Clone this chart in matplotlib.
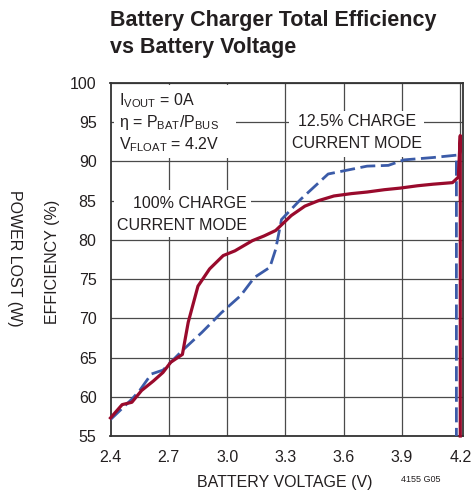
import matplotlib
matplotlib.use("Agg")
import matplotlib.pyplot as plt
from matplotlib.patches import Rectangle

# ---------------- data ----------------
x_ticks = [2.4, 2.7, 3.0, 3.3, 3.6, 3.9, 4.2]
x_tick_labels = ["2.4", "2.7", "3.0", "3.3", "3.6", "3.9", "4.2"]
y_ticks = [55, 60, 65, 70, 75, 80, 85, 90, 95, 100]
y_tick_labels = ["55", "60", "65", "70", "75", "80", "85", "90", "95", "100"]

full_v = [2.40, 2.46, 2.51, 2.56, 2.62, 2.67, 2.71, 2.77, 2.80, 2.85, 2.91, 2.98,
          3.04, 3.13, 3.19, 3.25, 3.33, 3.40, 3.47, 3.55, 3.64, 3.72, 3.81, 3.89,
          3.98, 4.06, 4.16, 4.19, 4.20, 4.20]
full_eff = [57.3, 59.0, 59.3, 60.8, 62.0, 63.1, 64.4, 65.4, 69.5, 74.1, 76.3, 78.0,
            78.6, 79.9, 80.5, 81.2, 83.1, 84.3, 85.0, 85.6, 85.9, 86.1, 86.4, 86.6,
            86.9, 87.1, 87.3, 88.0, 93.3, 55.0]

low_v = [2.40, 2.51, 2.55, 2.61, 2.67, 2.71, 2.77, 2.87, 2.97, 3.07, 3.14, 3.22,
         3.25, 3.28, 3.38, 3.52, 3.64, 3.72, 3.83, 3.91, 4.06, 4.18, 4.18]
low_eff = [57.1, 59.7, 60.8, 62.9, 63.4, 64.4, 65.9, 68.2, 70.7, 72.9, 75.2, 76.5,
           78.8, 82.6, 85.2, 88.4, 89.0, 89.4, 89.5, 90.2, 90.5, 90.8, 55.0]

# ---------------- style ----------------
FONT = ["Liberation Sans", "DejaVu Sans"]
plt.rcParams["font.family"] = FONT
plt.rcParams["mathtext.fontset"] = "custom"
plt.rcParams["mathtext.rm"] = "Liberation Sans"
plt.rcParams["mathtext.it"] = "Liberation Sans:italic"
plt.rcParams["mathtext.bf"] = "Liberation Sans:bold"

W, H = 474, 491
fig = plt.figure(figsize=(W / 100, H / 100), dpi=100)

L, R, T, B = 110.5, 463, 83, 436
ax = fig.add_axes([L / W, 1 - B / H, (R - L) / W, (B - T) / H])
ax.set_xlim(2.4, 4.214)
ax.set_ylim(55, 100)
ax.set_axisbelow(True)

TXT = "#231f20"
GRID = "#4a4a4a"
FS = 11.5

ax.set_xticks(x_ticks)
ax.set_xticklabels(x_tick_labels)
ax.set_yticks(y_ticks)
ax.set_yticklabels(y_tick_labels)
ax.tick_params(length=0, labelsize=FS, colors=TXT)
ax.tick_params(axis="x", pad=10)
ax.tick_params(axis="y", pad=10)
ax.grid(True, color=GRID, linewidth=0.9)
for s in ax.spines.values():
    s.set_color("#333333")
    s.set_linewidth(1.3)


def px2ax(px, py):
    return (px - L) / (R - L), (B - py) / (B - T)


def white_box(x0, y0, x1, y1):
    ax0, ay1 = px2ax(x0, y0)
    ax1, ay0 = px2ax(x1, y1)
    ax.add_patch(Rectangle((ax0, ay0), ax1 - ax0, ay1 - ay0, transform=ax.transAxes,
                           facecolor="white", edgecolor="none", zorder=1))


white_box(114, 85, 236, 158)
white_box(289, 111, 424, 157)
white_box(114, 190, 251, 237)

ax.plot(low_v, low_eff, color="#3b5ba8", linewidth=2.0,
        linestyle=(0, (5.4, 2.0)), zorder=3, clip_on=False)
ax.plot(full_v, full_eff, color="#990a2c", linewidth=2.3, zorder=4,
        solid_joinstyle="round", clip_on=False)

# annotations (pixel positions -> axes fraction)
def atext(px, py, s, ha="left", size=FS):
    x, y = px2ax(px, py)
    ax.text(x, y, s, transform=ax.transAxes, ha=ha, va="center", fontsize=size,
            color=TXT, zorder=5)

atext(119, 101, r"I$_{\mathrm{VOUT}}$ = 0A")
atext(119, 123, r"η = P$_{\mathrm{BAT}}$/P$_{\mathrm{BUS}}$")
atext(119, 145, r"V$_{\mathrm{FLOAT}}$ = 4.2V")
atext(357, 122, "12.5% CHARGE", ha="center")
atext(357, 144, "CURRENT MODE", ha="center")
atext(247, 204, "100% CHARGE", ha="right")
atext(247, 225, "CURRENT MODE", ha="right")

# titles and axis labels
fig.text(110 / W, 1 - 26 / H, "Battery Charger Total Efficiency", fontsize=15.5,
         fontweight="bold", color=TXT, ha="left", va="baseline")
fig.text(110 / W, 1 - 53 / H, "vs Battery Voltage", fontsize=15.5,
         fontweight="bold", color=TXT, ha="left", va="baseline")
fig.text(285 / W, 1 - 482 / H, "BATTERY VOLTAGE (V)", fontsize=FS, color=TXT,
         ha="center", va="center")
fig.text(52 / W, 1 - 262 / H, "EFFICIENCY (%)", fontsize=FS, color=TXT,
         ha="center", va="center", rotation=90)
fig.text(14 / W, 1 - 258 / H, "POWER LOST (W)", fontsize=FS, color=TXT,
         ha="center", va="center", rotation=-90)
fig.text(421 / W, 1 - 479 / H, "4155 G05", fontsize=6.5, color=TXT,
         ha="center", va="center")

fig.savefig("out.png", dpi=100)
